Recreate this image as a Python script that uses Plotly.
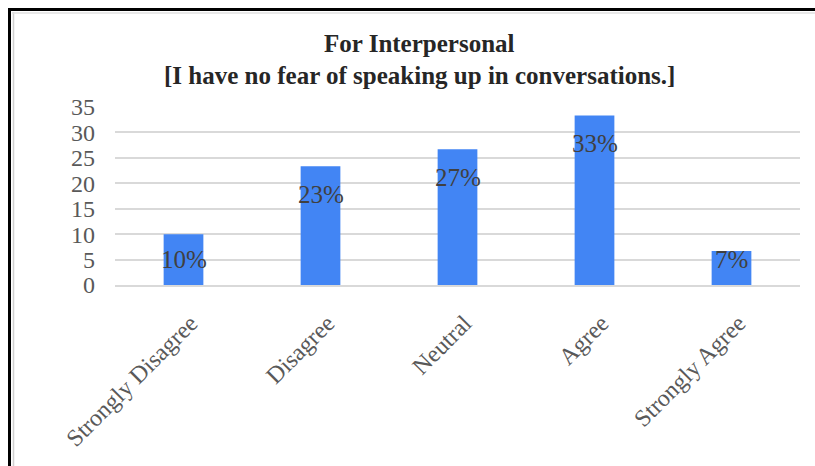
import plotly.graph_objects as go

# Survey responses (share of respondents, %)
categories = ["Strongly Disagree", "Disagree", "Neutral", "Agree", "Strongly Agree"]
shares = [10.0, 23.33, 26.67, 33.33, 6.67]
y_ticks = [0, 5, 10, 15, 20, 25, 30, 35]

title_line1 = "For Interpersonal"
title_line2 = "[I have no fear of speaking up in conversations.]"

SERIF = "Liberation Serif, Times New Roman, serif"
BAR_BLUE = "#4285F4"
TEXT_DARK = "#404040"
TICK_GREY = "#595959"
GRID_GREY = "#d9d9d9"

W, H = 815, 466
L, R, T, B = 115, 15, 107, 181
PW, PH = W - L - R, H - T - B


def px_x(x):
    return (x - L) / PW


def px_y(y_from_top):
    return (H - y_from_top - B) / PH


fig = go.Figure(
    go.Bar(
        x=categories,
        y=shares,
        width=0.29,
        marker=dict(color=BAR_BLUE, line=dict(width=0)),
        hoverinfo="skip",
    )
)

# Percentage labels sit inside the top of each bar, kept clear of the baseline
for cat, v in zip(categories, shares):
    fig.add_annotation(
        x=cat, y=max(v - 5.6, 5.0), xref="x", yref="y",
        text=f"{round(v)}%", showarrow=False,
        font=dict(family=SERIF, size=25, color=TEXT_DARK),
        xanchor="center", yanchor="middle",
    )

# Two-line bold title
for txt, ypix in ((title_line1, 43), (title_line2, 75)):
    fig.add_annotation(
        x=px_x(419), y=px_y(ypix), xref="paper", yref="paper",
        text=f"<b>{txt}</b>", showarrow=False,
        font=dict(family=SERIF, size=25, color="#262626"),
        xanchor="center", yanchor="middle",
    )

fig.update_layout(
    width=W, height=H,
    margin=dict(l=L, r=R, t=T, b=B),
    paper_bgcolor="white", plot_bgcolor="white",
    showlegend=False,
    xaxis=dict(
        tickangle=-45,
        tickfont=dict(family=SERIF, size=24, color=TICK_GREY),
        showgrid=False, showline=True, linecolor=GRID_GREY, linewidth=1.5,
        ticks="", ticklabelstandoff=13, ticklabelshift=7,
    ),
    yaxis=dict(
        range=[0, 35], tickvals=y_ticks,
        tickfont=dict(family=SERIF, size=24, color=TICK_GREY),
        showgrid=True, gridcolor=GRID_GREY, gridwidth=1.5,
        zeroline=False, showline=False, ticks="",
        ticklabelstandoff=19,
    ),
)

# Outer frame: heavy black edges on the left and top, light inner border
fig.add_shape(type="line", xref="paper", yref="paper",
              x0=px_x(9.5), x1=px_x(9.5), y0=px_y(8), y1=px_y(H),
              line=dict(color="black", width=3))
fig.add_shape(type="line", xref="paper", yref="paper",
              x0=px_x(8), x1=px_x(W), y0=px_y(9.5), y1=px_y(9.5),
              line=dict(color="black", width=3))
fig.add_shape(type="line", xref="paper", yref="paper",
              x0=px_x(13.5), x1=px_x(13.5), y0=px_y(12), y1=px_y(H),
              line=dict(color="#d0d0d0", width=1.5))
fig.add_shape(type="line", xref="paper", yref="paper",
              x0=px_x(12), x1=px_x(W), y0=px_y(13), y1=px_y(13),
              line=dict(color="#e0e0e0", width=1.5))

fig.write_html("out.html")
